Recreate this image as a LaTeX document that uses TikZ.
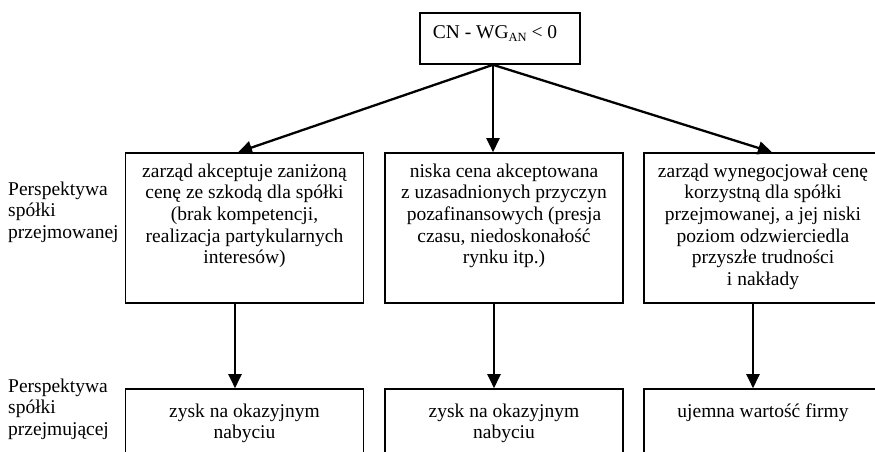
\documentclass[tikz,border=0pt]{standalone}
\usepackage{fontspec}
\setmainfont{Liberation Serif}
\usetikzlibrary{arrows.meta}
\tikzset{
  box/.style={draw, line width=1.6pt, inner sep=0pt, minimum width=238pt, minimum height=150pt},
  lowbox/.style={draw, line width=1.6pt, inner sep=0pt, minimum width=238pt, minimum height=100pt},
  txt/.style={anchor=north, inner sep=0pt, align=center, font=\fontsize{19.5}{21.7}\selectfont},
  lbl/.style={anchor=north west, inner sep=0pt, align=left, font=\fontsize{19.5}{21.7}\selectfont},
  arr/.style={line width=2.3pt, -{Triangle[width=13pt,length=14pt]}}
}
\begin{document}
\begin{tikzpicture}[x=1pt,y=-1pt]
\useasboundingbox (0,0) rectangle (875,452);
\begin{scope}
\clip (0,0) rectangle (875,452);
% top box
\node[draw, line width=1.6pt, inner sep=0pt, minimum width=160pt, minimum height=51pt] (top) at (500,38.5) {};
\node[anchor=base, inner sep=0pt, font=\fontsize{19.5}{21.7}\selectfont] (toptxt) at (495,39)
  {CN - WG\raisebox{-2.5pt}{\fontsize{12.5}{12.5}\selectfont AN} < 0};
% middle row
\node[box] (b1) at (244.5,228) {};
\node[box] (b2) at (504,228) {};
\node[box] (b3) at (763,228) {};
\node[txt] (t1) at (244.5,161.8) {\strut zarząd akceptuje zaniżoną\\cenę ze szkodą dla spółki\\(brak kompetencji,\\realizacja partykularnych\\interesów)};
\node[txt] (t2) at (504,161.8) {\strut niska cena akceptowana\\z uzasadnionych przyczyn\\pozafinansowych (presja\\czasu, niedoskonałość\\rynku itp.)};
\node[txt] (t3) at (763,161.8) {\strut zarząd wynegocjował cenę\\korzystną dla spółki\\przejmowanej, a jej niski\\poziom odzwierciedla\\przyszłe trudności\\i nakłady};
% bottom row
\node[lowbox] (c1) at (244.5,439) {};
\node[lowbox] (c2) at (504,439) {};
\node[lowbox] (c3) at (763,439) {};
\node[txt] (u1) at (244.5,401.8) {\strut zysk na okazyjnym\\nabyciu};
\node[txt] (u2) at (504,401.8) {\strut zysk na okazyjnym\\nabyciu};
\node[txt] (u3) at (763,401.8) {\strut ujemna wartość firmy};
% left labels
\node[lbl] (l1) at (8,179.8) {\strut Perspektywa\\spółki\\przejmowanej};
\node[lbl] (l2) at (8,376.8) {\strut Perspektywa\\spółki\\przejmującej};
% connectors
\draw[arr] ([xshift=-7pt]top.south) -- ([xshift=-6.5pt]b1.north);
\draw[arr] ([xshift=-7pt]top.south) -- ([xshift=-11pt]b2.north);
\draw[arr] ([xshift=-7pt]top.south) -- ([xshift=9pt]b3.north);
\draw[arr] ([xshift=-9.5pt]b1.south) -- ([xshift=-9.5pt]c1.north);
\draw[arr] ([xshift=-10pt]b2.south) -- ([xshift=-10pt]c2.north);
\draw[arr] ([xshift=-10pt]b3.south) -- ([xshift=-10pt]c3.north);
\end{scope}
\end{tikzpicture}
\end{document}
